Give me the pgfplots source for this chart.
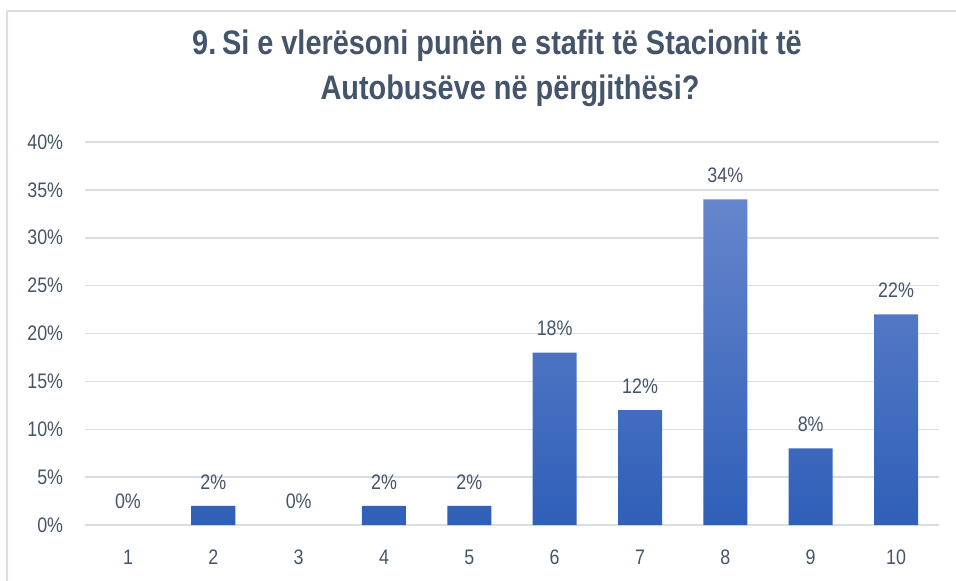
\documentclass[border=0pt]{standalone}
\usepackage{fontspec}
\setmainfont{Liberation Sans}[FakeStretch=0.85]
\usepackage{pgfplots}
\pgfplotsset{compat=1.18}
\pgfkeys{/pgf/number format/assume math mode=true}
\definecolor{txt}{HTML}{44546A}
\definecolor{gridc}{HTML}{D9DEE6}
\definecolor{btop}{HTML}{6585CC}
\definecolor{bmid}{HTML}{4472C8}
\definecolor{bbot}{HTML}{2F5FB8}
\begin{document}
\begin{tikzpicture}[x=1pt,y=1pt]
\useasboundingbox (0,0) rectangle (956,581);
\draw[gridc, line width=1.5pt] (7,0) -- (7,570) -- (960,570);
\node[txt, font=\fontsize{34}{40}\selectfont\bfseries] at (497,535) {9.\,Si e vlerësoni punën e stafit të Stacionit të};
\node[txt, font=\fontsize{34}{40}\selectfont\bfseries] at (510,490) {Autobusëve në përgjithësi?};
\begin{axis}[at={(85.3pt,56pt)}, anchor=south west, scale only axis,
  width=853.4pt, height=383pt,
  xmin=0.5, xmax=10.5, ymin=0, ymax=40,
  xtick={1,...,10}, ytick={0,5,...,40},
  /pgf/number format/assume math mode=true,
  yticklabel={\pgfmathprintnumber{\tick}\%},
  axis line style={draw=none},
  major tick length=0pt,
  ymajorgrids, grid style={gridc, line width=1.5pt},
  tick label style={txt, font=\fontsize{21}{24}\selectfont, inner sep=0pt},
  yticklabel style={anchor=east, xshift=-22pt},
  xticklabel style={anchor=center, yshift=-32pt},
  clip=false]
\addplot[ybar, bar width=44pt, draw=none, top color=btop, middle color=bmid, bottom color=bbot]
  coordinates {(2,2) (4,2) (5,2) (6,18) (7,12) (8,34) (9,8) (10,22)};
\addplot[only marks, mark=none, nodes near coords={\pgfmathprintnumber{\pgfplotspointmeta}\%},
  every node near coord/.append style={txt, font=\fontsize{21}{24}\selectfont, anchor=center, yshift=24pt, inner sep=0pt}]
  coordinates {(1,0) (2,2) (3,0) (4,2) (5,2) (6,18) (7,12) (8,34) (9,8) (10,22)};
\end{axis}
\end{tikzpicture}
\end{document}
